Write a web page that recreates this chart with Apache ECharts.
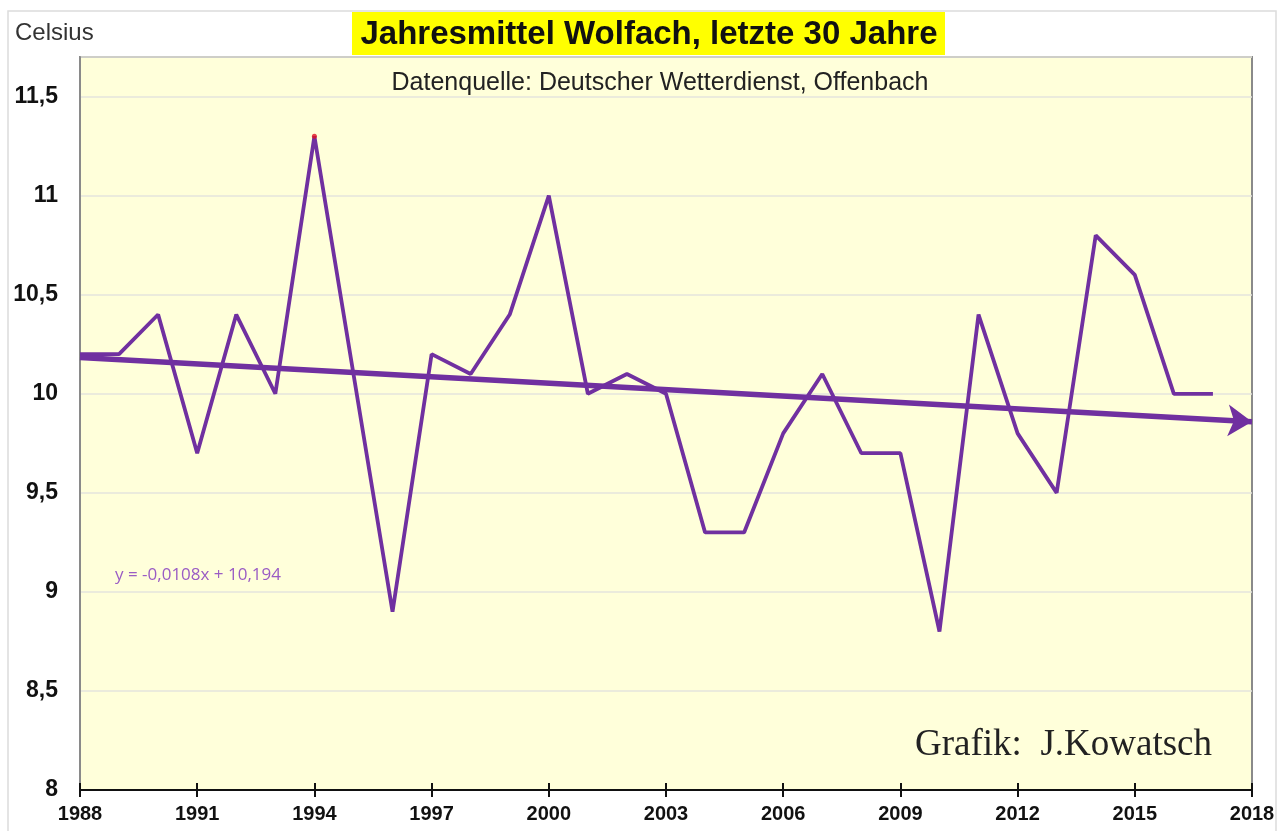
<!DOCTYPE html>
<html>
<head>
<meta charset="utf-8">
<script src="https://cdn.jsdelivr.net/npm/echarts@6/dist/echarts.min.js"></script>
<style>
html,body{margin:0;padding:0;background:#fff;}
#c{width:1283px;height:831px;}
</style>
</head>
<body>
<div id="c"></div>
<script>
const years = [1988,1989,1990,1991,1992,1993,1994,1995,1996,1997,1998,1999,2000,2001,2002,2003,2004,2005,2006,2007,2008,2009,2010,2011,2012,2013,2014,2015,2016,2017];
const temps = [10.2,10.2,10.4,9.7,10.4,10.0,11.3,10.1,8.9,10.2,10.1,10.4,11.0,10.0,10.1,10.0,9.3,9.3,9.8,10.1,9.7,9.7,8.8,10.4,9.8,9.5,10.8,10.6,10.0,10.0];
const trendSlope = -0.0108;
const trendIntercept = 10.194;
const trendStartYear = 1988;
const trendEndYear = 2018;
const xTickLabels = ['1988','1991','1994','1997','2000','2003','2006','2009','2012','2015','2018'];
const yTickLabels = ['8','8,5','9','9,5','10','10,5','11','11,5'];

const trendAt = y => trendIntercept + trendSlope * (y - 1987);
const purple = '#7030A0';

const chart = echarts.init(document.getElementById('c'), null, {renderer:'canvas'});
const option = {
  animation: false,
  backgroundColor: '#ffffff',
  grid: {left: 80, top: 57, right: 31, bottom: 41, show: true, backgroundColor: '#FFFFDA', borderColor: '#8a8a8a', borderWidth: 2},
  xAxis: [{
    type: 'value', min: 1988, max: 2018, interval: 3,
    axisLine: {show: true, lineStyle: {color: '#111', width: 2}},
    axisTick: {show: true, length: 7, lineStyle: {color: '#111', width: 2}},
    axisLabel: {margin: 14, color: '#111', fontSize: 20, fontWeight: 'bold', fontFamily: 'Liberation Sans, Arial, sans-serif',
      formatter: v => { const s = String(Math.round(v)); return xTickLabels.includes(s) ? s : ''; }},
    splitLine: {show: false}
  },{
    type: 'value', min: 1988, max: 2018, interval: 3, position: 'bottom',
    axisLine: {show: false},
    axisTick: {show: true, inside: true, length: 7, lineStyle: {color: '#111', width: 2}},
    axisLabel: {show: false},
    splitLine: {show: false}
  }],
  yAxis: {
    type: 'value', min: 8, max: 11.7, interval: 0.5,
    axisLine: {show: true, lineStyle: {color: '#8a8a8a', width: 2}},
    axisTick: {show: false},
    axisLabel: {margin: 22, color: '#111', fontSize: 23, fontWeight: 'bold', fontFamily: 'Liberation Sans, Arial, sans-serif',
      formatter: v => { const s = String(Math.round(v*10)/10).replace('.', ','); return yTickLabels.includes(s) ? s : ''; }},
    splitLine: {show: true, lineStyle: {color: '#e4e4dc', width: 1.5}}
  },
  series: [{
    type: 'line',
    data: years.map((y,i) => [y, temps[i]]),
    showSymbol: false, symbol: 'none',
    lineStyle: {color: purple, width: 3.8},
    z: 3,
    markLine: {
      silent: true, symbol: ['none','arrow'], symbolSize: 24,
      label: {show: false},
      lineStyle: {color: purple, width: 5.5, type: 'solid'},
      data: [[{coord: [trendStartYear, trendAt(trendStartYear)]}, {coord: [trendEndYear, trendAt(trendEndYear)]}]]
    }
  },{
    type: 'scatter',
    data: [[years[6], temps[6]]],
    symbolSize: 5,
    itemStyle: {color: '#e01020'},
    z: 4
  }],
  graphic: [
    {type: 'rect', shape: {x: 8, y: 11, width: 1268, height: 830}, style: {fill: 'none', stroke: '#dcdcdc', lineWidth: 1.5}, z: -10},
    {type: 'rect', shape: {x: 352, y: 12, width: 593, height: 43}, style: {fill: '#FFFF00'}, z: 10},
    {type: 'text', x: 649, y: 35, style: {text: 'Jahresmittel Wolfach, letzte 30 Jahre', font: 'bold 33px "Liberation Sans", Arial, sans-serif', fill: '#111', align: 'center', verticalAlign: 'middle'}, z: 11},
    {type: 'text', x: 15, y: 33, style: {text: 'Celsius', font: '24px "Liberation Sans", Arial, sans-serif', fill: '#333', align: 'left', verticalAlign: 'middle'}, z: 11},
    {type: 'text', x: 660, y: 83, style: {text: 'Datenquelle: Deutscher Wetterdienst, Offenbach', font: '25px "Liberation Sans", Arial, sans-serif', fill: '#222', align: 'center', verticalAlign: 'middle'}, z: 11},
    {type: 'text', x: 115, y: 575, style: {text: 'y = -0,0108x + 10,194', font: '17px "Open Sans", "Liberation Sans", sans-serif', fill: '#9a5cc4', align: 'left', verticalAlign: 'middle'}, z: 11},
    {type: 'text', x: 1212, y: 745, style: {text: 'Grafik:  J.Kowatsch', font: '37px "Liberation Serif", "Times New Roman", serif', fill: '#222', align: 'right', verticalAlign: 'middle'}, z: 11}
  ]
};
chart.setOption(option);
</script>
</body>
</html>
